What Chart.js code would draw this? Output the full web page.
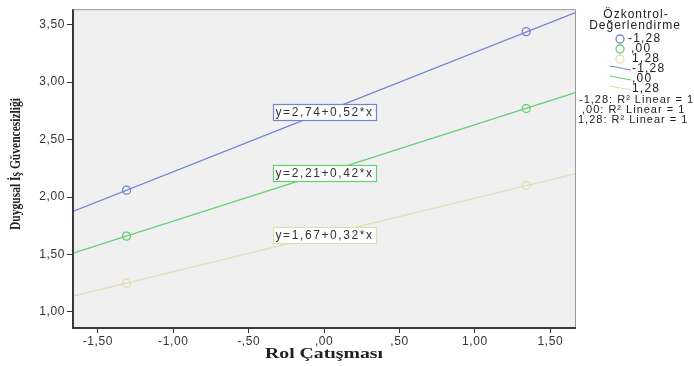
<!DOCTYPE html>
<html>
<head>
<meta charset="utf-8">
<script src="https://cdn.jsdelivr.net/npm/chart.js@4.4.1/dist/chart.umd.min.js"></script>
<style>
  body { margin: 0; background: #fff; }
  canvas { display: block; }
</style>
</head>
<body>
<canvas id="chart" width="694" height="366"></canvas>
<script>
// data
const groupLabels = ['-1,28', ',00', '1,28'];
const groupColors = ['#7484d2', '#62cf70', '#e2dcb2'];
const pointX = [-1.31, 1.34];
const pointsLow = [2.06, 3.44];
const pointsMid = [1.66, 2.77];
const pointsHigh = [1.25, 2.10];
const lineX = [-1.665, 1.665];
const lineLow = [1.875, 3.605];
const lineMid = [1.511, 2.909];
const lineHigh = [1.137, 2.203];
const equations = ['y=2,74+0,52*x', 'y=2,21+0,42*x', 'y=1,67+0,32*x'];
const intercepts = [2.74, 2.21, 1.67];
const r2Labels = ['-1,28: R\u00b2 Linear = 1', ',00: R\u00b2 Linear = 1', '1,28: R\u00b2 Linear = 1'];
const xTicks = [-1.5, -1.0, -0.5, 0, 0.5, 1.0, 1.5];
const yTicks = [1.0, 1.5, 2.0, 2.5, 3.0, 3.5];

const sans = '"Liberation Sans", Arial, sans-serif';
const serif = '"Liberation Serif", "Times New Roman", serif';

function fmt(v) {
    let s = Math.abs(v).toFixed(2).replace('.', ',');
    if (s.startsWith('0,')) s = s.slice(1);
    return (v < 0 ? '-' : '') + s;
}

function toXY(xs, ys) {
    return xs.map((x, i) => ({ x: x, y: ys[i] }));
}

const pointSets = [pointsLow, pointsMid, pointsHigh];
const lineSets = [lineLow, lineMid, lineHigh];

const datasets = [];
lineSets.forEach((ys, i) => {
    datasets.push({
        label: groupLabels[i] + ' fit',
        data: toXY(lineX, ys),
        showLine: true,
        borderColor: groupColors[i],
        borderWidth: 1.2,
        pointRadius: 0
    });
});
pointSets.forEach((ys, i) => {
    datasets.push({
        label: groupLabels[i],
        data: toXY(pointX, ys),
        pointRadius: 4,
        pointBorderWidth: 1.3,
        pointBorderColor: groupColors[i],
        pointBackgroundColor: 'rgba(0,0,0,0)'
    });
});

// background, frame, axis titles, equation boxes and legend
const spssDecor = {
    id: 'spssDecor',
    beforeDraw(chart) {
        const { ctx, chartArea: a } = chart;
        ctx.save();
        ctx.fillStyle = '#f0f0f0';
        ctx.fillRect(a.left, a.top, a.right - a.left, a.bottom - a.top);
        ctx.restore();
        ctx.letterSpacing = '0.6px';
    },
    afterDatasetsDraw(chart) {
        const { ctx, chartArea: a, scales } = chart;
        ctx.save();
        // frame
        ctx.strokeStyle = '#9a9a9a';
        ctx.lineWidth = 1;
        ctx.beginPath();
        ctx.moveTo(a.left, a.top + 0.5);
        ctx.lineTo(a.right - 0.5, a.top + 0.5);
        ctx.lineTo(a.right - 0.5, a.bottom);
        ctx.stroke();
        ctx.strokeStyle = '#3a3a3a';
        ctx.lineWidth = 2;
        ctx.beginPath();
        ctx.moveTo(a.left, a.top);
        ctx.lineTo(a.left, a.bottom);
        ctx.lineTo(a.right, a.bottom);
        ctx.stroke();

        // equation labels centred at (0, intercept)
        ctx.font = '12px ' + sans;
        ctx.letterSpacing = '1.6px';
        ctx.textBaseline = 'middle';
        ctx.textAlign = 'left';
        equations.forEach((eq, i) => {
            const cx = scales.x.getPixelForValue(0);
            const cy = scales.y.getPixelForValue(intercepts[i]);
            const w = 103, h = 16;
            const bx = Math.round(cx - w / 2) + 0.5, by = Math.round(cy - h / 2) + 0.5;
            ctx.fillStyle = '#ffffff';
            ctx.fillRect(bx, by, w, h);
            ctx.strokeStyle = groupColors[i];
            ctx.lineWidth = 1.2;
            ctx.strokeRect(bx, by, w, h);
            ctx.fillStyle = '#333';
            ctx.fillText(eq, bx + 2, cy + 0.5);
        });
        ctx.restore();
    },
    afterDraw(chart) {
        const { ctx } = chart;
        ctx.save();
        ctx.fillStyle = '#222';
        ctx.textBaseline = 'middle';

        // x axis title
        ctx.letterSpacing = '0px';
        ctx.font = 'bold 15px ' + serif;
        ctx.textAlign = 'center';
        let t = 'Rol Çatışması';
        let w = ctx.measureText(t).width;
        ctx.save();
        ctx.translate(324, 354);
        ctx.scale(118 / w, 1);
        ctx.fillText(t, 0, 0);
        ctx.restore();

        // y axis title
        ctx.font = 'bold 15px ' + serif;
        t = 'Duygusal İş Güvencesizliği';
        w = ctx.measureText(t).width;
        ctx.save();
        ctx.translate(16, 164);
        ctx.rotate(-Math.PI / 2);
        ctx.scale(132 / w, 1);
        ctx.fillText(t, 0, 0);
        ctx.restore();

        // legend
        ctx.letterSpacing = '1px';
        ctx.font = '12px ' + sans;
        ctx.textAlign = 'center';
        ctx.fillText('Özkontrol-', 636, 15);
        ctx.fillText('Değerlendirme', 635, 26);

        ctx.font = '12px ' + sans;
        ctx.letterSpacing = '1.2px';
        ctx.textAlign = 'left';
        const txtX = [628, 631, 632];
        groupLabels.forEach((lab, i) => {
            const y = 39 + i * 10;
            ctx.strokeStyle = groupColors[i];
            ctx.lineWidth = 1.3;
            ctx.beginPath();
            ctx.arc(620, y, 4, 0, Math.PI * 2);
            ctx.stroke();
            ctx.fillText(lab, txtX[i], y);
        });
        groupLabels.forEach((lab, i) => {
            const y = 69 + i * 10;
            ctx.strokeStyle = groupColors[i];
            ctx.lineWidth = 1.2;
            ctx.beginPath();
            ctx.moveTo(610, y - 3);
            ctx.lineTo(631, y + 1);
            ctx.stroke();
            ctx.fillText(lab, 632, y);
        });
        ctx.font = '11px ' + sans;
        ctx.letterSpacing = '1px';
        const r2X = [579, 582, 578];
        r2Labels.forEach((lab, i) => {
            ctx.fillText(lab, r2X[i], 100 + i * 10);
        });
        ctx.restore();
    }
};

new Chart(document.getElementById('chart'), {
    type: 'scatter',
    data: { datasets: datasets },
    options: {
        responsive: false,
        devicePixelRatio: 1,
        animation: false,
        layout: { padding: { top: 5, right: 118, left: 0, bottom: 0 } },
        plugins: {
            legend: { display: false },
            tooltip: { enabled: false }
        },
        scales: {
            x: {
                type: 'linear',
                min: -1.665,
                max: 1.67,
                afterBuildTicks: (s) => { s.ticks = xTicks.map(v => ({ value: v })); },
                afterFit: (s) => { s.height = 38; },
                border: { display: false },
                grid: { drawOnChartArea: false, drawTicks: true, tickLength: 5, tickColor: '#333' },
                ticks: {
                    font: { family: sans, size: 12 },
                    color: '#333',
                    padding: 1,
                    maxRotation: 0,
                    callback: (v) => fmt(v)
                }
            },
            y: {
                type: 'linear',
                min: 0.86,
                max: 3.635,
                afterBuildTicks: (s) => { s.ticks = yTicks.map(v => ({ value: v })); },
                afterFit: (s) => { s.width = 73; },
                border: { display: false },
                grid: { drawOnChartArea: false, drawTicks: true, tickLength: 6, tickColor: '#333' },
                ticks: {
                    font: { family: sans, size: 12 },
                    color: '#333',
                    padding: 2,
                    callback: (v) => fmt(v)
                }
            }
        }
    },
    plugins: [spssDecor]
});
</script>
</body>
</html>
